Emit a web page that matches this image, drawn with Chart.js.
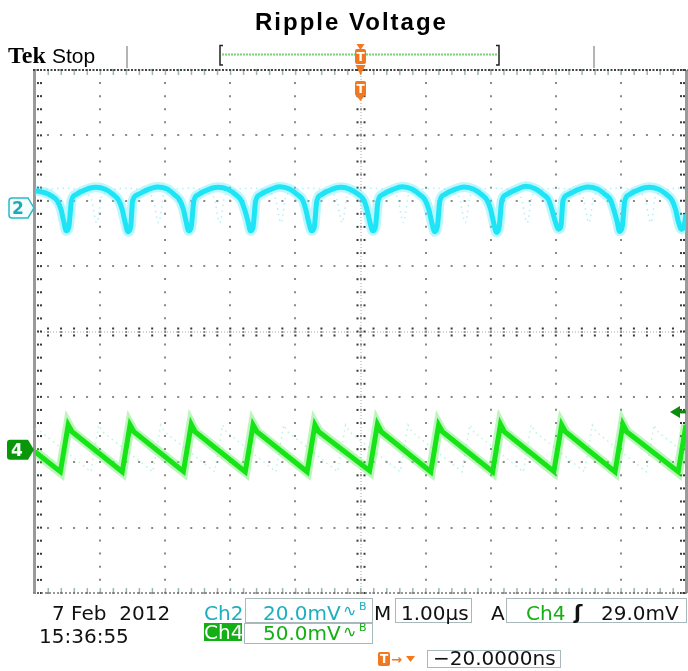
<!DOCTYPE html>
<html><head><meta charset="utf-8">
<script src="https://cdn.jsdelivr.net/npm/chart.js@4.4.1/dist/chart.umd.min.js"></script>
<style>html,body{margin:0;padding:0;background:#fff;}canvas{display:block}</style>
</head><body>
<canvas id="c" width="688" height="671"></canvas>
<script>
// ---------- chart values ----------
const titleText = "Ripple Voltage";
const timeRangeUs = [-5, 5];          // 1.00 µs / div, 10 divisions
const voltDivRange = [-4, 4];         // 8 vertical divisions
const ch2MvPerDiv = 20;               // Ch2 20.0 mV/div
const ch4MvPerDiv = 50;               // Ch4 50.0 mV/div
const ch2GroundDiv = 1.89;            // ground marker position (div)
const ch4GroundDiv = -1.81;
const triggerLevelMv = 29.0;

// Ch2 (cyan) output ripple, time in µs, value in mV
const ch2Times = [
 -5.00,-4.85,-4.74,-4.66,-4.60,-4.56,
 -4.52,-4.48,-4.44,-4.37,-4.22,-4.07,-3.92,-3.80,-3.72,-3.66,-3.62,
 -3.57,-3.53,-3.50,-3.42,-3.27,-3.12,-2.97,-2.86,-2.78,-2.72,-2.68,
 -2.64,-2.60,-2.56,-2.49,-2.34,-2.19,-2.04,-1.92,-1.84,-1.78,-1.73,
 -1.69,-1.65,-1.61,-1.54,-1.39,-1.24,-1.09,-0.97,-0.89,-0.84,-0.80,
 -0.75,-0.71,-0.67,-0.60,-0.45,-0.30,-0.15,-0.03, 0.05, 0.10, 0.14,
  0.19, 0.23, 0.27, 0.34, 0.49, 0.64, 0.79, 0.91, 0.99, 1.05, 1.09,
  1.14, 1.18, 1.22, 1.29, 1.44, 1.59, 1.74, 1.86, 1.94, 2.00, 2.04,
  2.09, 2.13, 2.17, 2.24, 2.39, 2.54, 2.69, 2.81, 2.89, 2.94, 2.99,
  3.04, 3.08, 3.11, 3.19, 3.34, 3.49, 3.64, 3.76, 3.84, 3.89, 3.94,
  3.98, 4.02, 4.06, 4.13, 4.28, 4.43, 4.58, 4.70, 4.78, 4.84, 4.88,
  4.93, 4.97, 5.00];
const ch2Millivolts = [
  5.3, 4.7, 3.6, 2.2,-0.5,-4.0,
 -7.0,-5.8, 2.2, 4.1, 5.6, 6.3, 5.7, 4.1, 2.5,-0.5,-4.0,
 -7.3,-5.8, 2.2, 4.1, 5.6, 6.4, 5.8, 4.1, 2.5,-0.5,-4.0,
 -7.0,-5.8, 2.2, 4.1, 5.6, 6.3, 5.7, 4.1, 2.5,-0.5,-4.0,
 -7.0,-5.8, 2.2, 4.1, 5.6, 6.5, 5.8, 4.1, 2.5,-0.5,-4.0,
 -7.0,-5.8, 2.2, 4.1, 5.6, 6.3, 5.6, 4.1, 2.5,-0.5,-4.0,
 -7.0,-5.8, 2.2, 4.1, 5.6, 6.5, 5.8, 4.1, 2.5,-0.5,-4.0,
 -7.3,-5.8, 2.2, 4.1, 5.6, 6.4, 5.7, 4.1, 2.5,-0.5,-4.0,
 -7.5,-5.8, 2.2, 4.1, 5.6, 6.6, 5.8, 4.1, 2.5,-0.5,-4.0,
 -6.5,-5.5, 2.2, 4.1, 5.6, 6.4, 5.8, 4.1, 2.5,-0.5,-4.0,
 -7.2,-5.8, 2.2, 4.1, 5.6, 6.3, 5.7, 4.1, 2.5,-0.5,-4.0,
 -6.5,-5.5,-2.0];

// Ch2 faint persistence (earlier acquisition), time in µs, value in mV
const ch2GhostTimes = [
 -5.00,-4.52,-4.15,-4.05,-3.97,-3.58,-3.20,-3.10,-3.02,-2.64,-2.26,-2.16,-2.08,
 -1.69,-1.32,-1.22,-1.14,-0.75,-0.38,-0.28,-0.20, 0.19, 0.56, 0.66, 0.74,
  1.14, 1.51, 1.61, 1.69, 2.09, 2.46, 2.56, 2.64, 3.04, 3.41, 3.51, 3.59,
  3.98, 4.36, 4.46, 4.54, 4.93, 5.00];
const ch2GhostMillivolts = [
  5.5, 6.0, 3.5,-4.5, 4.0, 6.0, 3.5,-4.5, 4.0, 6.0, 3.5,-4.5, 4.0,
  6.0, 3.5,-4.5, 4.0, 6.0, 3.5,-4.5, 4.0, 6.0, 3.5,-4.5, 4.0,
  6.0, 3.5,-4.5, 4.0, 6.0, 3.5,-4.5, 4.0, 6.0, 3.5,-4.5, 4.0,
  6.0, 3.5,-4.5, 4.0, 6.0, 5.5];

// Ch4 (green) sawtooth, time in µs, value in mV
const ch4Times = [
 -5.00,-4.61,-4.49,-4.43,-3.66,-3.54,-3.48,-2.72,-2.60,-2.54,
 -1.77,-1.65,-1.59,-0.82,-0.70,-0.64, 0.14, 0.26, 0.32, 1.08,
  1.20, 1.26, 2.03, 2.15, 2.21, 2.97, 3.09, 3.15, 3.91, 4.03,
  4.09, 4.88, 5.00];
const ch4Millivolts = [
 -1.5,-16.8, 19.1, 13.8,-16.8, 19.1, 13.8,-16.5, 19.5, 13.8,
-16.8, 19.1, 13.8,-16.8, 19.1, 13.8,-16.0, 19.5, 13.8,-16.8,
 19.1, 13.8,-16.8, 19.5, 13.8,-16.5, 19.1, 13.8,-16.8, 19.5,
 13.8,-16.8, 19.1];

// Ch4 faint persistence, time in µs, value in mV
const ch4GhostTimes = [
 -5.00,-4.91,-4.14,-4.02,-3.96,-3.19,-3.07,-3.01,-2.24,-2.12,-2.06,
 -1.30,-1.18,-1.12,-0.35,-0.23,-0.17, 0.61, 0.73, 0.79, 1.56, 1.68, 1.74,
  2.50, 2.62, 2.68, 3.44, 3.56, 3.62, 4.39, 4.51, 4.57, 5.00];
const ch4GhostMillivolts = [
 16.0, 13.8,-16.8, 19.0, 13.8,-16.8, 19.0, 13.8,-16.8, 19.0, 13.8,
-16.8, 19.0, 13.8,-16.8, 19.0, 13.8,-16.8, 19.0, 13.8,-16.8, 19.0, 13.8,
-16.8, 19.0, 13.8,-16.8, 19.0, 13.8,-16.8, 19.0, 13.8, -3.5];

// ---------- build library data ----------
const toPts = (ts, vs, perDiv, gnd) => ts.map((t, i) => ({x: t, y: gnd + vs[i] / perDiv}));
const ch2Pts = toPts(ch2Times, ch2Millivolts, ch2MvPerDiv, ch2GroundDiv);
const ch4Pts = toPts(ch4Times, ch4Millivolts, ch4MvPerDiv, ch4GroundDiv);
const ch2GhostPts = toPts(ch2GhostTimes, ch2GhostMillivolts, ch2MvPerDiv, ch2GroundDiv);
const ch4GhostPts = toPts(ch4GhostTimes, ch4GhostMillivolts, ch4MvPerDiv, ch4GroundDiv);

const CYAN = 'rgb(30,228,245)';
const GREEN = 'rgb(22,228,22)';
const ORANGE = 'rgb(242,120,32)';

function pentagon(ctx, x0, tipX, yc, h) {
  const r = 3;
  ctx.beginPath();
  ctx.moveTo(x0 + r, yc - h/2);
  ctx.lineTo(tipX - 6, yc - h/2);
  ctx.lineTo(tipX, yc);
  ctx.lineTo(tipX - 6, yc + h/2);
  ctx.lineTo(x0 + r, yc + h/2);
  ctx.quadraticCurveTo(x0, yc + h/2, x0, yc + h/2 - r);
  ctx.lineTo(x0, yc - h/2 + r);
  ctx.quadraticCurveTo(x0, yc - h/2, x0 + r, yc - h/2);
  ctx.closePath();
}
function tBox(ctx, cx, y0, w, h) {
  ctx.fillStyle = ORANGE;
  ctx.beginPath();
  ctx.roundRect(cx - w/2, y0, w, h, 2);
  ctx.fill();
  ctx.fillStyle = '#fff';
  ctx.font = 'bold 12px "DejaVu Sans"';
  ctx.textAlign = 'center';
  ctx.fillText('T', cx, y0 + h - 3);
  ctx.textAlign = 'left';
}

const scopePlugin = {
  id: 'scope',
  beforeDatasetsDraw(chart) {
    const {ctx, chartArea: a, scales: {x, y}} = chart;
    ctx.save();
    const cx = x.getPixelForValue(0), cy = y.getPixelForValue(0);
    ctx.strokeStyle = '#a8a8a8'; ctx.lineWidth = 1; ctx.setLineDash([1, 2]);
    ctx.beginPath(); ctx.moveTo(cx + 0.5, a.top); ctx.lineTo(cx + 0.5, a.bottom);
    ctx.moveTo(a.left, cy + 0.5); ctx.lineTo(a.right, cy + 0.5); ctx.stroke();
    ctx.setLineDash([]);
    ctx.fillStyle = '#3a3a3a';
    for (let k = -20; k <= 20; k++) {
      const py = y.getPixelForValue(k * 0.2);
      ctx.fillRect(cx - 4, py - 1, 2, 2); ctx.fillRect(cx + 3, py - 1, 2, 2);
      ctx.fillRect(a.left + 2, py - 1, 2, 2); ctx.fillRect(a.left + 5, py - 1, 2, 2);
      ctx.fillRect(a.right - 6, py - 1, 2, 2); ctx.fillRect(a.right - 3, py - 1, 2, 2);
    }
    for (let k = -25; k <= 25; k++) {
      const px = x.getPixelForValue(k * 0.2);
      ctx.fillRect(px - 1, cy - 4, 2, 2); ctx.fillRect(px - 1, cy + 3, 2, 2);
      ctx.fillStyle = '#9ab8b8';
      ctx.fillRect(px - 0.5, a.top + 1, 1.5, 4);
      ctx.fillRect(px - 0.5, a.bottom - 5, 1.5, 4);
      ctx.fillStyle = '#3a3a3a';
    }
    ctx.fillStyle = '#9a9a9a';
    ctx.fillRect(a.left - 2, a.top, 3, a.bottom - a.top);
    ctx.fillRect(a.right - 1, a.top, 3, a.bottom - a.top);
    ctx.strokeStyle = '#444'; ctx.lineWidth = 2; ctx.setLineDash([2, 1.5]);
    ctx.beginPath(); ctx.moveTo(a.left - 2, a.top); ctx.lineTo(a.right + 2, a.top); ctx.stroke();
    ctx.strokeStyle = '#777'; ctx.lineWidth = 1.5; ctx.setLineDash([2, 2]);
    ctx.beginPath(); ctx.moveTo(a.left - 2, a.bottom); ctx.lineTo(a.right + 2, a.bottom); ctx.stroke();
    ctx.setLineDash([]);
    ctx.restore();
  },
  afterDraw(chart) {
    const {ctx, chartArea: a, scales: {x, y}} = chart;
    ctx.save();
    ctx.textBaseline = 'alphabetic';
    ctx.fillStyle = '#000';
    ctx.font = 'bold 24px "Liberation Sans", Arial';
    ctx.letterSpacing = '2px';
    ctx.fillText(titleText, 255, 30);
    ctx.letterSpacing = '0px';
    ctx.font = 'bold 24px "Liberation Serif", serif';
    ctx.fillText('Tek', 8, 63);
    ctx.font = '21px "Liberation Sans", Arial';
    ctx.fillText('Stop', 52, 63);
    ctx.fillStyle = '#b4b4b4';
    ctx.fillRect(126, 46, 2, 22); ctx.fillRect(593, 46, 2, 22);
    ctx.strokeStyle = '#222'; ctx.lineWidth = 1.5;
    ctx.beginPath();
    ctx.moveTo(223, 45.5); ctx.lineTo(220, 45.5); ctx.lineTo(220, 65); ctx.lineTo(223, 65);
    ctx.moveTo(496, 45.5); ctx.lineTo(499, 45.5); ctx.lineTo(499, 65); ctx.lineTo(496, 65);
    ctx.stroke();
    ctx.strokeStyle = 'rgb(120,210,120)'; ctx.lineWidth = 2; ctx.setLineDash([2, 1]);
    ctx.beginPath(); ctx.moveTo(222, 54.5); ctx.lineTo(497, 54.5); ctx.stroke();
    ctx.setLineDash([]);
    const tx = x.getPixelForValue(0);
    ctx.fillStyle = ORANGE;
    ctx.beginPath(); ctx.moveTo(tx - 4, 44); ctx.lineTo(tx + 4, 44); ctx.lineTo(tx, 50); ctx.fill();
    tBox(ctx, tx, 49, 11, 15);
    ctx.fillStyle = ORANGE;
    ctx.beginPath(); ctx.moveTo(tx - 5, 65); ctx.lineTo(tx + 5, 65); ctx.lineTo(tx, 75); ctx.fill();
    tBox(ctx, tx, 81, 11, 15);
    ctx.fillStyle = ORANGE;
    ctx.beginPath(); ctx.moveTo(tx - 4, 96); ctx.lineTo(tx + 4, 96); ctx.lineTo(tx, 101); ctx.fill();
    const g2 = y.getPixelForValue(ch2GroundDiv), g4 = y.getPixelForValue(ch4GroundDiv);
    pentagon(ctx, 9, a.left - 1, g2, 20);
    ctx.fillStyle = '#f4feff'; ctx.fill();
    ctx.strokeStyle = 'rgb(40,185,200)'; ctx.lineWidth = 1.5; ctx.stroke();
    ctx.fillStyle = 'rgb(30,170,185)'; ctx.font = 'bold 17px "DejaVu Sans"';
    ctx.fillText('2', 12, g2 + 6);
    pentagon(ctx, 7, a.left - 1, g4, 20);
    ctx.fillStyle = 'rgb(10,150,10)'; ctx.fill();
    ctx.fillStyle = '#fff'; ctx.font = 'bold 17px "DejaVu Sans"';
    ctx.fillText('4', 11, g4 + 6);
    const tl = y.getPixelForValue(ch4GroundDiv + triggerLevelMv / ch4MvPerDiv);
    ctx.fillStyle = 'rgb(10,140,10)';
    ctx.beginPath(); ctx.moveTo(670, tl); ctx.lineTo(680, tl - 6); ctx.lineTo(680, tl + 6); ctx.fill();
    ctx.fillRect(679, tl - 1.5, 7, 3);
    ctx.font = '20px "DejaVu Sans"';
    ctx.fillStyle = '#111';
    ctx.fillText('7 Feb  2012', 52, 620);
    ctx.fillText('15:36:55', 39, 643);
    ctx.strokeStyle = '#a9b9bb'; ctx.lineWidth = 1;
    ctx.strokeRect(245.5, 598.5, 127, 24);
    ctx.strokeRect(395.5, 598.5, 76, 24);
    ctx.strokeRect(506.5, 598.5, 180, 24);
    ctx.strokeRect(244.5, 623.5, 128, 20);
    ctx.strokeRect(427.5, 650.5, 133, 17);
    ctx.fillStyle = 'rgb(30,175,190)';
    ctx.fillText('Ch2', 204, 620);
    ctx.fillText('20.0mV', 263, 620);
    ctx.font = '16px "DejaVu Sans"';
    ctx.fillText('∿', 343, 616);
    ctx.font = '11px "DejaVu Sans"';
    ctx.fillText('B', 359, 610);
    ctx.font = '20px "DejaVu Sans"';
    ctx.fillStyle = '#111';
    ctx.fillText('M', 374, 620);
    ctx.fillText('1.00µs', 401, 620);
    ctx.fillText('A', 491, 620);
    ctx.fillText('29.0mV', 601, 620);
    ctx.font = 'bold 20px "DejaVu Sans"';
    ctx.fillText('ʃ', 574, 619);
    ctx.font = '20px "DejaVu Sans"';
    ctx.fillStyle = 'rgb(20,175,20)';
    ctx.fillText('Ch4', 526, 620);
    ctx.fillRect(204, 623, 38, 18);
    ctx.fillText('50.0mV', 263, 640);
    ctx.font = '16px "DejaVu Sans"';
    ctx.fillText('∿', 343, 637);
    ctx.font = '11px "DejaVu Sans"';
    ctx.fillText('B', 359, 631);
    ctx.font = '20px "DejaVu Sans"';
    ctx.fillStyle = '#fff';
    ctx.fillText('Ch4', 204, 639);
    tBox(ctx, 384, 652, 12, 14);
    ctx.fillStyle = ORANGE; ctx.font = 'bold 13px "DejaVu Sans"';
    ctx.fillText('→', 391, 664);
    ctx.beginPath(); ctx.moveTo(406, 656); ctx.lineTo(415, 656); ctx.lineTo(410.5, 662); ctx.fill();
    ctx.fillStyle = '#111'; ctx.font = '20px "DejaVu Sans"';
    ctx.fillText('−20.0000ns', 433, 665);
    ctx.restore();
  }
};

new Chart(document.getElementById('c'), {
  type: 'line',
  data: {
    datasets: [
      {label: 'Ch2', data: ch2Pts, borderColor: CYAN, borderWidth: 5, pointRadius: 0, cubicInterpolationMode: 'monotone', order: 1},
      {label: 'Ch2 band', data: ch2Pts, borderColor: 'rgba(90,232,248,0.4)', borderWidth: 10, pointRadius: 0, cubicInterpolationMode: 'monotone', order: 3},
      {label: 'Ch2 persistence', data: ch2GhostPts, borderColor: 'rgba(140,235,250,0.7)', borderWidth: 1.5, borderDash: [1.5, 4], pointRadius: 0, cubicInterpolationMode: 'monotone', order: 5},
      {label: 'Ch4', data: ch4Pts, borderColor: GREEN, borderWidth: 5, pointRadius: 0, tension: 0, order: 1},
      {label: 'Ch4 band', data: ch4Pts, borderColor: 'rgba(90,232,90,0.4)', borderWidth: 10, pointRadius: 0, tension: 0, order: 3},
      {label: 'Ch4 persistence', data: ch4GhostPts, borderColor: 'rgba(160,240,215,0.75)', borderWidth: 1.5, borderDash: [1.5, 4], pointRadius: 0, tension: 0, order: 5}
    ]
  },
  options: {
    responsive: false,
    animation: false,
    devicePixelRatio: 1,
    layout: {padding: {left: 35, right: 2, top: 70, bottom: 78}},
    plugins: {legend: {display: false}, title: {display: false}, tooltip: {enabled: false}},
    scales: {
      x: {type: 'linear', min: timeRangeUs[0], max: timeRangeUs[1],
          ticks: {display: false, stepSize: 1},
          grid: {color: '#8a8a8a', lineWidth: 2, drawTicks: false},
          border: {display: false, dash: [2, 11.07], dashOffset: 1}},
      y: {type: 'linear', min: voltDivRange[0], max: voltDivRange[1],
          ticks: {display: false, stepSize: 1},
          grid: {color: '#8a8a8a', lineWidth: 2, drawTicks: false},
          border: {display: false, dash: [2, 11.02], dashOffset: 1}}
    }
  },
  plugins: [scopePlugin]
});
</script>
</body></html>
